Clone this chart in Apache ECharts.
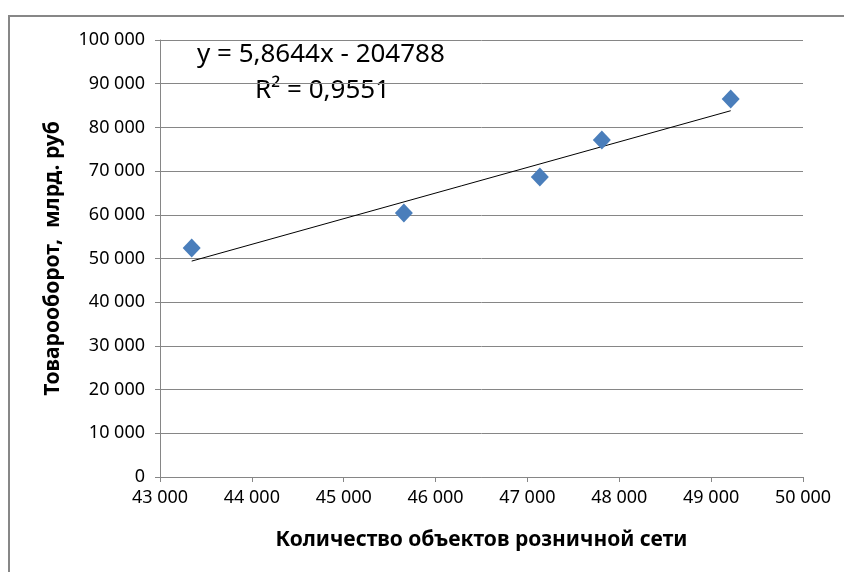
<!DOCTYPE html>
<html>
<head>
<meta charset="utf-8">
<script src="https://cdn.jsdelivr.net/npm/echarts@6/dist/echarts.min.js"></script>
<style>
  html, body { margin: 0; padding: 0; background: #fff; }
  #frame {
    position: absolute; left: 8px; top: 15px; width: 900px; height: 600px;
    border-left: 2px solid #878787; border-top: 2px solid #878787;
  }
  #chart { position: absolute; left: 0; top: 0; width: 844px; height: 572px; }
</style>
</head>
<body>
<div id="frame"></div>
<div id="chart"></div>
<script>
// точки: количество объектов / товарооборот
var objects  = [43345, 45655, 47135, 47810, 49213];
var turnover = [52400, 60400, 68650, 77100, 86500];
// линия тренда y = 5,8644x - 204788
var slope = 5.8644;
var intercept = -204788;
var eqText = 'y = 5,8644x - 204788';
var r2Text = 'R² = 0,9551';

var xMin = 43000, xMax = 50000, xStep = 1000;
var yMin = 0, yMax = 100000, yStep = 10000;

function fmt(v) {
  return String(v).replace(/\B(?=(\d{3})+(?!\d))/g, ' ');
}

var points = objects.map(function (x, i) { return [x, turnover[i]]; });
var x0 = Math.min.apply(null, objects), x1 = Math.max.apply(null, objects);
var trend = [[x0, slope * x0 + intercept], [x1, slope * x1 + intercept]];

var myChart = echarts.init(document.getElementById('chart'));
var font = "'Noto Sans', sans-serif";
var option = {
  animation: false,
  grid: { left: 160, right: 41, top: 40, bottom: 95 },
  xAxis: {
    type: 'value', min: xMin, max: xMax, interval: xStep,
    name: 'Количество объектов розничной сети',
    nameLocation: 'middle', nameGap: 53,
    nameTextStyle: { fontFamily: font, fontWeight: 'bold', fontSize: 21, color: '#000' },
    axisLine: { lineStyle: { color: '#868686' } },
    axisTick: { show: true, length: 5, lineStyle: { color: '#868686' } },
    axisLabel: { fontFamily: font, fontSize: 18, color: '#000', margin: 12, formatter: fmt },
    splitLine: { show: false }
  },
  yAxis: {
    type: 'value', min: yMin, max: yMax, interval: yStep,
    name: 'Товарооборот,  млрд. руб',
    nameLocation: 'middle', nameGap: 96,
    nameTextStyle: { fontFamily: font, fontWeight: 'bold', fontSize: 21, color: '#000' },
    axisLine: { show: true, lineStyle: { color: '#868686' } },
    axisTick: { show: true, length: 5, lineStyle: { color: '#868686' } },
    axisLabel: { fontFamily: font, fontSize: 18, color: '#000', margin: 15, formatter: fmt },
    splitLine: { lineStyle: { color: '#868686' } }
  },
  graphic: [
    { type: 'text', left: 197, top: 42, style: { text: eqText, font: '26px ' + font, fill: '#000' } },
    { type: 'text', left: 255, top: 78, style: { text: r2Text, font: '26px ' + font, fill: '#000' } }
  ],
  series: [
    {
      type: 'line', data: trend, symbol: 'none', silent: true,
      lineStyle: { color: '#000', width: 1 }, z: 1
    },
    {
      type: 'scatter', data: points, symbol: 'diamond', symbolSize: [18, 19],
      itemStyle: { color: '#4A7EBB', opacity: 1 }, z: 2
    }
  ]
};
myChart.setOption(option);
</script>
</body>
</html>
